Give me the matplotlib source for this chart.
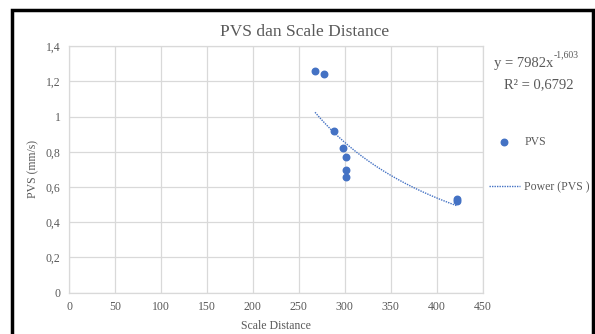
import numpy as np
import matplotlib.pyplot as plt
from matplotlib.patches import Rectangle

# data
scale_distance = [267.7, 278, 288, 297.8, 301, 301, 301, 421.7, 421.7]
pvs = [1.26, 1.24, 0.917, 0.820, 0.773, 0.697, 0.656, 0.533, 0.520]

# power trendline from the chart label
coef_a = 7982
coef_b = -1.603
r2_text = "0,6792"

x_ticks = [0, 50, 100, 150, 200, 250, 300, 350, 400, 450]
y_ticks = [0, 0.2, 0.4, 0.6, 0.8, 1.0, 1.2, 1.4]
y_labels = ["0", "0,2", "0,4", "0,6", "0,8", "1", "1,2", "1,4"]

plt.rcParams['font.family'] = ['Liberation Serif', 'DejaVu Serif']
grey = "#595959"
blue = "#4472C4"

fig = plt.figure(figsize=(5.95, 3.34), dpi=100)
ax = fig.add_axes([0.116, 0.1237, 0.695, 0.738])

ax.scatter(scale_distance, pvs, s=22, color=blue, zorder=3, label="PVS")

xs = np.linspace(min(scale_distance), max(scale_distance), 200)
ax.plot(xs, coef_a * xs ** coef_b, linestyle=(0, (1, 0.8)), linewidth=1.0,
        color=blue, zorder=2, label="Power (PVS )")

ax.set_xlim(0, 450)
ax.set_ylim(0, 1.4)
ax.set_xticks(x_ticks)
ax.set_yticks(y_ticks)
ax.set_yticklabels(y_labels)
ax.tick_params(length=0, labelsize=8.5, labelcolor=grey, pad=6)
ax.grid(True, color="#D9D9D9", linewidth=0.9)
ax.set_axisbelow(True)
for s in ax.spines.values():
    s.set_color("#D9D9D9")
    s.set_linewidth(0.9)

ax.set_xlabel("Scale Distance", fontsize=8.5, color=grey, labelpad=5)
ax.set_ylabel("PVS (mm/s)", fontsize=8.5, color=grey, labelpad=5)
fig.text(0.512, 0.904, "PVS dan Scale Distance", ha="center", va="center",
         fontsize=12.5, color=grey)

# equation text: main part plus small superscript exponent
fig.text(0.930, 0.811, "y = 7982x", ha="right", va="center", fontsize=10.5,
         color=grey)
fig.text(0.931, 0.836, "-1,603", ha="left", va="center", fontsize=7, color=grey)
fig.text(0.905, 0.746, "R² = " + r2_text, ha="center", va="center",
         fontsize=10.5, color=grey)

ax.legend(loc="center left", bbox_to_anchor=(0.99, 0.52), frameon=False,
          fontsize=8.5, labelcolor=grey, handlelength=2.6, labelspacing=2.8,
          handletextpad=0.4, markerscale=1.0)

# outer frame of the screenshot
fig.patches.append(Rectangle((12 / 595, -0.1), 581 / 595, 1.1 - 10 / 334,
                             transform=fig.transFigure, fill=False,
                             edgecolor="black", linewidth=2.5))

fig.savefig("out.png", dpi=100)
